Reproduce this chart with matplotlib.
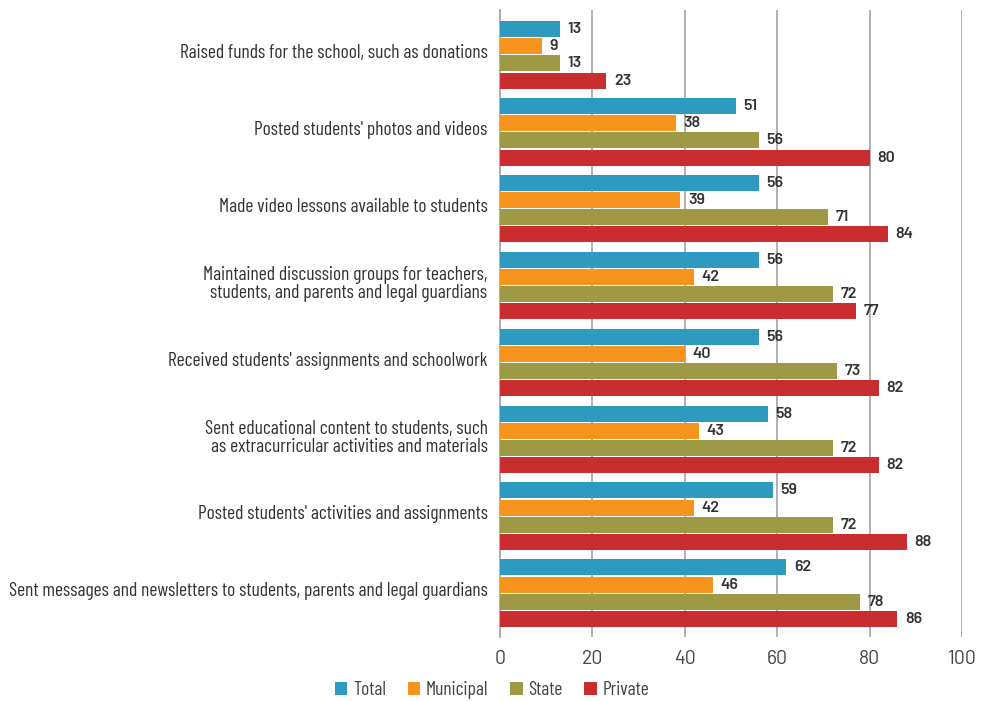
import matplotlib
matplotlib.use("Agg")
import matplotlib.pyplot as plt
import numpy as np

plt.rcParams["font.family"] = ["Barlow Condensed", "DejaVu Sans"]
NUM_FONT = ["Barlow", "DejaVu Sans"]

categories = [
    "Raised funds for the school, such as donations",
    "Posted students' photos and videos",
    "Made video lessons available to students",
    "Maintained discussion groups for teachers,\nstudents, and parents and legal guardians",
    "Received students' assignments and schoolwork",
    "Sent educational content to students, such\nas extracurricular activities and materials",
    "Posted students' activities and assignments",
    "Sent messages and newsletters to students, parents and legal guardians",
]
series_names = ["Total", "Municipal", "State", "Private"]
total = [13, 51, 56, 56, 56, 58, 59, 62]
municipal = [9, 38, 39, 42, 40, 43, 42, 46]
state = [13, 56, 71, 72, 73, 72, 72, 78]
private = [23, 80, 84, 77, 82, 82, 88, 86]
x_ticks = [0, 20, 40, 60, 80, 100]

colors = ["#2E9ABF", "#F7941D", "#9E9944", "#C92D30"]
series = [total, municipal, state, private]

fig = plt.figure(figsize=(9.83, 7.01), dpi=100)
ax = fig.add_axes([500 / 983, 1 - 637 / 701, 462 / 983, 627 / 701])

n = len(categories)
pitch = 0.224
height = 0.208
centers = np.arange(n)
for i, (vals, col, name) in enumerate(zip(series, colors, series_names)):
    y = centers + (i - 1.5) * pitch
    bars = ax.barh(y, vals, height=height, color=col, label=name, zorder=3)
    for b, v in zip(bars, vals):
        ax.annotate(f"{v}", (v, b.get_y() + b.get_height() / 2),
                    xytext=(5.5, 0), textcoords="offset points",
                    va="center", ha="left", fontsize=11.5, fontweight="semibold",
                    family=NUM_FONT, color="#333333", zorder=4)

ax.set_ylim(7.57, -0.583)
ax.set_xlim(0, 100)
ax.set_xticks(x_ticks)
ax.set_xticklabels([str(t) for t in x_ticks], fontsize=14, color="#444444",
                   family=NUM_FONT, fontweight="normal")
# category labels sit a little above the middle of their bar group
ax.set_yticks(centers - 0.05)
ax.set_yticklabels(categories, fontsize=14, color="#333333", linespacing=1.05)
ax.tick_params(axis="y", length=0, pad=9)
ax.tick_params(axis="x", length=0, pad=9)
ax.xaxis.grid(True, color="#AAAAAA", linewidth=1.3, zorder=0)
for s in ["top", "right", "bottom"]:
    ax.spines[s].set_visible(False)
ax.spines["left"].set_color("#AAAAAA")
ax.spines["left"].set_linewidth(1.3)

fig.legend(loc="center", bbox_to_anchor=(492 / 983, 1 - 690 / 701), ncol=4, frameon=False,
           fontsize=14, handlelength=0.65, handleheight=0.65, handletextpad=0.3,
           columnspacing=1.1, labelcolor="#444444")

fig.savefig("out.png", dpi=100)
